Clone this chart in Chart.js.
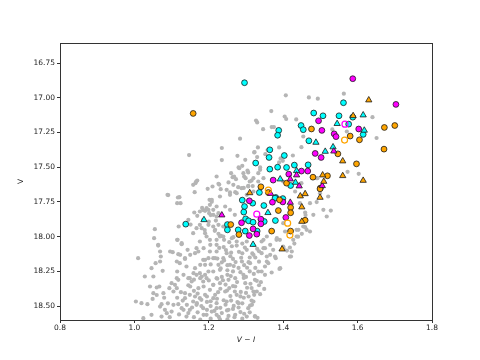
<!DOCTYPE html>
<html>
<head>
<meta charset="utf-8">
<script src="https://cdn.jsdelivr.net/npm/chart.js@4.4.1/dist/chart.umd.min.js"></script>
<style>
  html, body { margin: 0; padding: 0; background: #fff; }
  #wrap { width: 480px; height: 360px; }
</style>
</head>
<body>
<div id="wrap"><canvas id="cmd" width="480" height="360"></canvas></div>
<script>
// axis ticks
const colourTicks = [0.8, 1.0, 1.2, 1.4, 1.6, 1.8];
const magTicks = [16.75, 17.0, 17.25, 17.5, 17.75, 18.0, 18.25, 18.5];

// [V-I, V] pairs
const fieldStars = [
  [1.407,16.983],[1.469,16.998],[1.493,17.007],[1.563,16.971],[1.368,17.096],[1.404,17.135],[1.408,17.153],
  [1.435,17.156],[1.327,17.164],[1.33,17.178],[1.346,17.226],[1.369,17.211],[1.375,17.211],[1.532,17.228],
  [1.571,17.243],[1.64,17.14],[1.454,17.279],[1.651,17.29],[1.284,17.295],
  [1.449,17.356],[1.235,17.362],[1.147,17.413],[1.235,17.449],[1.277,17.418],[1.323,17.391],[1.332,17.358],
  [1.33,17.427],[1.358,17.377],[1.352,17.406],[1.389,17.358],[1.426,17.416],[1.393,17.437],[1.399,17.454],
  [1.389,17.466],[1.29,17.49],[1.28,17.502],[1.306,17.538],[1.26,17.543],[1.268,17.567],[1.299,17.579],
  [1.295,17.567],[1.306,17.634],[1.318,17.636],[1.338,17.502],[1.333,17.543],[1.492,17.579],[1.573,17.533],
  [1.603,17.548],[1.528,17.812],[1.459,17.932],[1.49,17.751],[1.499,17.687],[1.459,17.826],[1.46,17.845],
  [1.449,17.615],[1.49,17.579],
  [1.322,17.394],[1.298,17.447],[1.282,17.507],[1.304,17.524],[1.264,17.572],[1.273,17.586],[1.315,17.596],
  [1.294,17.649],[1.253,17.61],[1.228,17.625],[1.232,17.658],[1.248,17.663],[1.257,17.682],[1.271,17.68],
  [1.279,17.644],[1.197,17.656],[1.164,17.615],[1.169,17.596],[1.117,17.718],[1.124,17.759],[1.091,17.701],
  [1.162,17.68],[1.202,17.735],[1.208,17.749],[1.182,17.793],[1.185,17.809],[1.201,17.831],[1.205,17.845],
  [1.161,17.826],[1.169,17.85],[1.219,17.884],[1.151,17.913],[1.119,17.927],[1.212,17.927],[1.216,17.958],
  [1.189,17.953],[1.226,17.98],[1.233,17.994],[1.241,18.023],[1.266,18.004],[1.275,18.035],[1.463,17.951],
  [1.441,17.951],[1.427,18.023],[1.418,18.143],[1.338,17.519],[1.221,17.567],[1.391,18.023],[1.373,18.095],
  [1.4,17.903],[1.342,18.035],[1.302,18.095],
  [1.266,17.627],[1.288,17.651],[1.306,17.639],[1.32,17.675],[1.302,17.699],[1.275,17.687],[1.257,17.699],
  [1.23,17.711],[1.208,17.735],[1.203,17.771],[1.194,17.795],[1.212,17.807],[1.226,17.831],[1.244,17.783],
  [1.257,17.807],[1.27,17.843],[1.4,17.603],[1.432,17.675],[1.445,17.759],[1.472,17.759],[1.481,17.843],
  [1.517,17.855],[1.414,17.963],[1.436,17.999],[1.454,17.927],[1.472,17.963],[1.508,17.807],[1.521,17.711],
  [1.31,17.603],[1.333,17.603],[1.347,17.579],[1.293,17.543],[1.32,17.579],[1.185,17.879],[1.199,17.915],
  [1.217,17.951],[1.23,17.999],[1.203,18.023],[1.221,18.059],[1.239,17.927],[1.356,17.999],[1.382,18.023],
  [1.4,18.071],
  [1.089,17.699],[1.121,17.716],[1.115,17.759],[1.166,17.603],[1.158,17.627],[1.21,17.639],[1.226,17.62],
  [1.221,17.783],[1.199,17.807],[1.19,17.814],[1.176,17.819],[1.145,17.879],[1.176,17.915],[1.167,17.939],
  [1.181,17.939],[1.158,17.975],[1.19,17.975],[1.194,17.999],[1.176,18.035],[1.115,18.023],[1.127,18.047],
  [1.055,17.946],[1.053,18.011],[1.064,18.059],[1.2,17.891],[1.226,17.915],[1.221,17.855],[1.212,17.843],
  [1.010,18.155],[1.064,18.064],[1.069,18.107],[1.071,18.143],[1.069,18.179],[1.057,18.191],[1.046,18.227],
  [1.076,18.246],[1.051,18.287],[1.028,18.287],[1.042,18.359],[1.06,18.366],[1.067,18.359],[1.051,18.407],
  [1.049,18.448],[1.073,18.486],[1.069,18.503],[1.082,18.527],[1.087,18.551],[1.004,18.467],[1.019,18.479],
  [1.035,18.486],[1.046,18.563],[1.078,18.407],[1.094,18.371],[1.1,18.335],[1.114,18.299],[1.115,18.251],
  [1.096,18.107],[1.103,18.112],[1.118,18.126],[1.136,18.16],[1.122,18.191],[1.14,18.215],[1.149,18.299],
  [1.154,18.323],[1.167,18.275],[1.163,18.227],[1.176,18.263],[1.181,18.287],[1.172,18.371],[1.185,18.323],
  [1.194,18.299],[1.199,18.155],[1.203,18.107],[1.163,18.119],[1.167,18.083],[1.185,18.167],[1.19,18.203],
  [1.114,18.371],[1.105,18.491],[1.118,18.486],[1.127,18.515],[1.136,18.443],[1.149,18.419],[1.158,18.467],
  [1.167,18.491],[1.176,18.443],[1.185,18.515],[1.19,18.419],[1.203,18.383],[1.212,18.347],[1.221,18.299],
  [1.212,18.251],[1.226,18.203],[1.217,18.155],[1.221,18.107],[1.212,18.443],[1.221,18.479],[1.208,18.539],
  [1.194,18.563],[1.149,18.527],[1.14,18.575],[1.1,18.539],[1.073,18.575],[1.024,18.587],
  [1.418,18.078],[1.421,18.143],[1.39,18.232],[1.38,18.155],[1.369,18.258],[1.349,18.376],[1.338,18.414],
  [1.329,18.395],[1.322,18.419],[1.311,18.496],[1.306,18.515],[1.302,18.575],[1.324,18.572],[1.331,18.584],
  [1.32,18.467],[1.34,18.328],[1.342,18.251],[1.351,18.215],[1.36,18.191],[1.365,18.131],[1.356,18.143],
  [1.351,18.083],[1.342,18.119],
  [1.228,18.081],[1.246,18.097],[1.262,18.069],[1.281,18.109],[1.297,18.079],[1.317,18.121],[1.33,18.088],
  [1.223,18.158],[1.241,18.171],[1.258,18.141],[1.272,18.183],[1.287,18.152],[1.307,18.184],[1.325,18.15],
  [1.232,18.229],[1.25,18.242],[1.267,18.212],[1.285,18.256],[1.303,18.224],[1.321,18.268],
  [1.223,18.303],[1.238,18.314],[1.259,18.284],[1.276,18.327],[1.294,18.297],[1.312,18.339],[1.329,18.318],
  [1.231,18.375],[1.249,18.388],[1.265,18.356],[1.286,18.398],[1.303,18.368],
  [1.222,18.447],[1.24,18.458],[1.258,18.428],[1.277,18.471],[1.294,18.44],
  [1.231,18.512],[1.249,18.531],[1.267,18.499],[1.285,18.543],
  [1.227,18.578],[1.253,18.571],[1.269,18.58],
  [1.116,18.023],[1.127,18.054],[1.143,18.095],[1.123,18.131],[1.136,18.155],[1.114,18.179],[1.15,18.131],
  [1.172,18.107],[1.186,18.083],[1.204,18.059],[1.221,18.023],[1.239,17.999],[1.262,18.011],[1.275,18.064],
  [1.302,18.035],[1.347,18.023],[1.365,18.059],[1.383,18.011],[1.405,17.963],[1.436,17.951],[1.347,18.083],
  [1.378,18.143],[1.401,18.083],[1.423,18.107],[1.392,18.227],[1.356,18.179],[1.32,18.131],[1.248,18.119],
  [1.239,18.155],[1.212,18.155],[1.19,18.167],[1.177,18.203],[1.159,18.263],[1.145,18.299],[1.132,18.275],
  [1.118,18.311],[1.109,18.347],[1.105,18.395],[1.136,18.407],[1.15,18.359],[1.177,18.299],[1.199,18.251],
  [1.23,18.239],[1.257,18.203],[1.289,18.179],[1.311,18.191],[1.333,18.251],[1.293,18.275],[1.271,18.299],
  [1.253,18.311],[1.23,18.335],[1.212,18.347],[1.186,18.359],[1.163,18.431],[1.141,18.491],[1.132,18.527],
  [1.168,18.479],[1.195,18.431],[1.217,18.419],[1.244,18.395],[1.271,18.359],[1.298,18.335],[1.324,18.311],
  [1.351,18.275],[1.275,18.419],[1.248,18.467],[1.221,18.515],[1.195,18.527],[1.186,18.563],[1.221,18.563],
  [1.253,18.527],[1.28,18.479],[1.307,18.431],[1.32,18.395],[1.316,18.491],[1.324,18.575],[1.271,18.563],
  [1.23,18.596],[1.177,18.598],
  [1.44,18.0],[1.43,18.05],[1.41,18.1],[1.45,17.98],
  [1.16,18.39],[1.17,18.41],[1.18,18.455],[1.195,18.47],[1.205,18.5],[1.215,18.535],[1.235,18.55],
  [1.245,18.49],[1.26,18.46],[1.265,18.52],[1.28,18.51],[1.29,18.48],[1.295,18.555],[1.31,18.545],
  [1.315,18.46],[1.3,18.405],[1.285,18.43],[1.27,18.395],[1.255,18.37],[1.245,18.345],[1.235,18.29],
  [1.25,18.275],[1.265,18.25],[1.28,18.225],[1.295,18.205],[1.31,18.25],[1.325,18.225],[1.3,18.29],
  [1.315,18.37],[1.335,18.35],[1.2,18.315],[1.19,18.275],[1.205,18.2],[1.235,18.185],[1.25,18.205],
  [1.265,18.16],[1.29,18.12],[1.31,18.15],[1.335,18.18],[1.26,18.115],[1.24,18.075],[1.255,18.04],
  [1.29,18.05],[1.32,18.06],[1.335,18.105],[1.16,18.31],[1.145,18.35],[1.125,18.4],[1.115,18.44],
  [1.13,18.46],[1.155,18.51],[1.17,18.545],[1.16,18.58],[1.205,18.59],[1.25,18.595],[1.29,18.59],
  [1.08,18.44],[1.09,18.48],[1.06,18.42],[1.095,18.58],[1.12,18.56],[1.145,18.55],[1.205,18.465],
  [1.225,18.4],[1.18,18.5]
];

const cyanCircles = [
  [1.296,16.892],[1.562,17.036],[1.482,17.11],[1.507,17.13],[1.550,17.13],[1.587,17.14],[1.576,17.19],
  [1.448,17.2],[1.454,17.23],[1.615,17.264],[1.469,17.31],[1.364,17.375],[1.388,17.235],[1.385,17.27],
  [1.362,17.43],[1.403,17.416],[1.326,17.47],[1.364,17.514],[1.385,17.5],[1.409,17.502],[1.43,17.485],
  [1.467,17.483],[1.42,17.632],[1.336,17.682],[1.38,17.718],[1.29,17.737],[1.318,17.759],[1.296,17.783],
  [1.348,17.776],[1.378,17.723],[1.399,17.726],[1.294,17.823],[1.299,17.872],[1.307,17.886],[1.319,17.896],
  [1.349,17.891],[1.379,17.884],[1.138,17.91],[1.25,17.913],[1.25,17.951],[1.279,17.951],[1.298,17.96],
  [1.33,17.96]
];
const cyanTriangles = [
  [1.545,17.187],[1.615,17.125],[1.618,17.235],[1.488,17.322],[1.534,17.355],[1.513,17.387],[1.436,17.526],
  [1.392,17.586],[1.433,17.61],[1.359,17.828],[1.187,17.879],[1.319,18.057]
];
const magentaCircles = [
  [1.587,16.863],[1.703,17.048],[1.495,17.166],[1.504,17.235],[1.537,17.26],[1.542,17.28],[1.603,17.225],
  [1.486,17.401],[1.502,17.43],[1.449,17.528],[1.466,17.528],[1.415,17.55],[1.373,17.593],[1.309,17.742],
  [1.371,17.752],[1.399,17.75],[1.34,17.874],[1.34,17.908],[1.288,17.9],[1.407,17.862],[1.309,17.992],
  [1.319,17.944],[1.329,17.982]
];
const magentaTriangles = [
  [1.436,17.557],[1.419,17.586],[1.443,17.636],[1.505,17.634],[1.366,17.69],[1.419,17.754],[1.235,17.845],
  [1.536,17.385]
];
const orangeCircles = [
  [1.158,17.113],[1.476,17.225],[1.672,17.214],[1.70,17.2],[1.58,17.276],[1.605,17.303],[1.671,17.37],
  [1.547,17.404],[1.597,17.476],[1.48,17.572],[1.519,17.562],[1.409,17.615],[1.5,17.65],[1.34,17.641],
  [1.36,17.682],[1.39,17.735],[1.42,17.79],[1.42,17.828],[1.387,17.812],[1.499,17.656],[1.459,17.882],
  [1.259,17.913],[1.281,17.985],[1.369,17.96],[1.42,17.96]
];
const orangeTriangles = [
  [1.630,17.017],[1.588,17.13],[1.56,17.456],[1.56,17.562],[1.615,17.596],[1.506,17.557],[1.509,17.603],
  [1.31,17.685],[1.446,17.708],[1.459,17.692],[1.499,17.718],[1.45,17.787],[1.45,17.891],[1.397,18.09]
];
const orangeOpen = [[1.565,17.305],[1.36,17.665],[1.412,17.903],[1.418,17.989]];
const magentaOpen = [[1.566,17.19],[1.329,17.838]];

const toPts = arr => arr.map(([x, y]) => ({ x, y }));

const marked = (data, color, style, radius) => ({
  data: toPts(data),
  pointStyle: style,
  pointRadius: radius,
  backgroundColor: color,
  borderColor: '#1a1a1a',
  borderWidth: 0.8
});

const hollow = (data, color) => ({
  data: toPts(data),
  pointStyle: 'circle',
  pointRadius: 3,
  backgroundColor: 'rgba(0,0,0,0)',
  borderColor: color,
  borderWidth: 1.2
});

// box around the axes, like matplotlib spines
const frameBox = {
  id: 'frameBox',
  afterDatasetsDraw(chart) {
    const { ctx, chartArea: a } = chart;
    ctx.save();
    ctx.strokeStyle = '#333';
    ctx.lineWidth = 1;
    ctx.strokeRect(a.left + 0.5, a.top + 0.5, a.right - a.left, a.bottom - a.top);
    ctx.restore();
  }
};

const tickFont = { family: 'DejaVu Sans', size: 7.5 };

new Chart(document.getElementById('cmd'), {
  type: 'scatter',
  data: {
    datasets: [
      hollow(orangeOpen, '#ffa500'),
      hollow(magentaOpen, '#ff00ff'),
      marked(orangeTriangles, '#ffa500', 'triangle', 3.6),
      marked(magentaTriangles, '#ff00ff', 'triangle', 3.6),
      marked(cyanTriangles, '#00ffff', 'triangle', 3.6),
      marked(orangeCircles, '#ffa500', 'circle', 2.9),
      marked(magentaCircles, '#ff00ff', 'circle', 2.9),
      marked(cyanCircles, '#00ffff', 'circle', 2.9),
      {
        data: toPts(fieldStars),
        pointStyle: 'circle',
        pointRadius: 2.1,
        backgroundColor: '#b5b5b5',
        borderWidth: 0
      }
    ]
  },
  options: {
    responsive: false,
    animation: false,
    events: [],
    layout: { padding: { left: 0, right: 48, top: 43, bottom: 0 } },
    plugins: { legend: { display: false }, tooltip: { enabled: false } },
    scales: {
      x: {
        type: 'linear',
        min: 0.8,
        max: 1.8,
        afterBuildTicks: s => { s.ticks = colourTicks.map(v => ({ value: v })); },
        afterFit: s => { s.height = 40; },
        grid: { drawOnChartArea: false, drawTicks: true, tickLength: 3, tickColor: '#333' },
        border: { display: true, color: '#333' },
        ticks: { color: '#222', font: tickFont, padding: 1, maxRotation: 0,
                 callback: v => v.toFixed(1) },
        title: { display: true, text: 'V − I', color: '#222',
                 font: { family: 'DejaVu Sans', size: 7.5, style: 'italic' },
                 padding: { top: 0, bottom: 15 } }
      },
      y: {
        type: 'linear',
        reverse: true,
        min: 16.606,
        max: 18.6,
        afterBuildTicks: s => { s.ticks = magTicks.map(v => ({ value: v })); },
        afterFit: s => { s.width = 60; },
        grid: { drawOnChartArea: false, drawTicks: true, tickLength: 3, tickColor: '#333' },
        border: { display: true, color: '#333' },
        ticks: { color: '#222', font: tickFont, padding: 2,
                 callback: v => v.toFixed(2) },
        title: { display: true, text: 'V', color: '#222',
                 font: { family: 'DejaVu Sans', size: 7.5 },
                 padding: { top: 17, bottom: 0 } }
      }
    }
  },
  plugins: [frameBox]
});
</script>
</body>
</html>
